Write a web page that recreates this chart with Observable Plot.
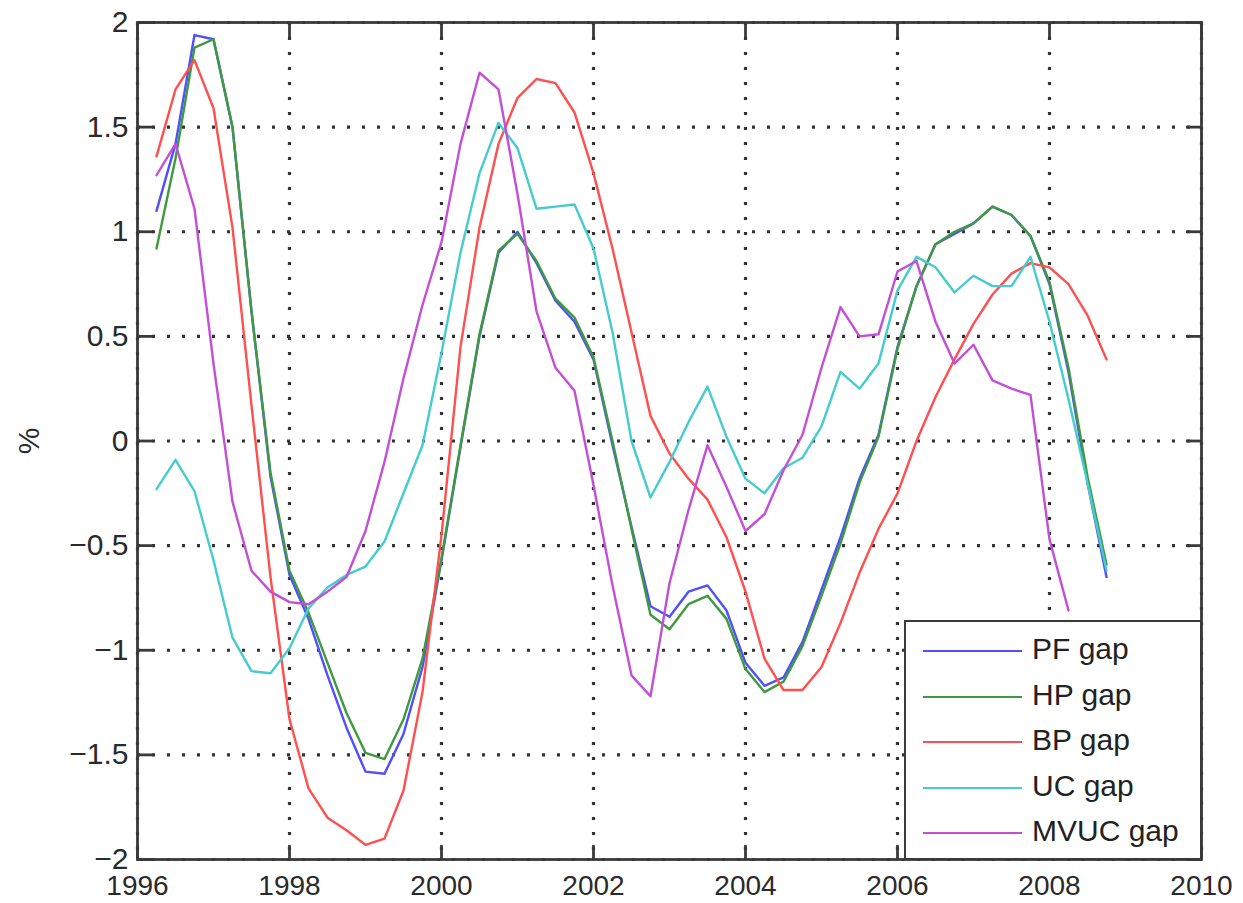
<!DOCTYPE html>
<html>
<head>
<meta charset="utf-8">
<script src="https://cdn.jsdelivr.net/npm/d3@7"></script>
<script src="https://cdn.jsdelivr.net/npm/@observablehq/plot@0.6"></script>
<style>
  html, body { margin: 0; padding: 0; background: #fff; }
  #wrap { position: relative; width: 1243px; height: 903px; overflow: hidden; font-family: "Liberation Sans", Arial, sans-serif; }
  #legend { position: absolute; background: #fff; border: 2.6px solid #3a3a3a; box-sizing: border-box; }
  .entry { position: absolute; left: 0; width: 100%; }
  .entry .sw { position: absolute; left: 17px; width: 99px; height: 0; border-top: 2.8px solid; }
  .entry .lb { position: absolute; left: 126px; font-size: 30px; color: #222; line-height: 30px; white-space: nowrap; }
</style>
</head>
<body>
<div id="wrap"></div>
<script>
// Quarterly observation dates (decimal years)
const quarters = [
  1996.25, 1996.5, 1996.75, 1997, 1997.25, 1997.5, 1997.75, 1998, 1998.25, 1998.5, 1998.75,
  1999, 1999.25, 1999.5, 1999.75, 2000, 2000.25, 2000.5, 2000.75, 2001, 2001.25, 2001.5, 2001.75,
  2002, 2002.25, 2002.5, 2002.75, 2003, 2003.25, 2003.5, 2003.75, 2004, 2004.25, 2004.5, 2004.75,
  2005, 2005.25, 2005.5, 2005.75, 2006, 2006.25, 2006.5, 2006.75, 2007, 2007.25, 2007.5, 2007.75,
  2008, 2008.25, 2008.5, 2008.75
];

const pfGap = [1.1, 1.42, 1.94, 1.92, 1.5, 0.62, -0.17, -0.64, -0.85, -1.12, -1.37, -1.58, -1.59, -1.4, -1.08, -0.57, -0.03, 0.5, 0.9, 1.0, 0.85, 0.67, 0.57, 0.39, -0.02, -0.41, -0.79, -0.84, -0.72, -0.69, -0.81, -1.06, -1.17, -1.13, -0.96, -0.71, -0.46, -0.18, 0.03, 0.45, 0.74, 0.94, 0.99, 1.04, 1.12, 1.08, 0.98, 0.75, 0.33, -0.2, -0.65];
const hpGap = [0.92, 1.35, 1.88, 1.92, 1.5, 0.62, -0.15, -0.62, -0.82, -1.06, -1.3, -1.49, -1.52, -1.33, -1.04, -0.56, -0.02, 0.51, 0.91, 0.99, 0.86, 0.68, 0.59, 0.4, 0.0, -0.42, -0.83, -0.9, -0.78, -0.74, -0.85, -1.09, -1.2, -1.15, -0.98, -0.74, -0.49, -0.2, 0.02, 0.44, 0.74, 0.94, 1.0, 1.04, 1.12, 1.08, 0.98, 0.76, 0.35, -0.17, -0.59];
const bpGap = [1.36, 1.68, 1.82, 1.59, 1.02, 0.17, -0.65, -1.33, -1.66, -1.8, -1.86, -1.93, -1.9, -1.67, -1.2, -0.45, 0.45, 1.02, 1.42, 1.64, 1.73, 1.71, 1.57, 1.28, 0.92, 0.52, 0.12, -0.06, -0.18, -0.28, -0.46, -0.72, -1.04, -1.19, -1.19, -1.08, -0.87, -0.63, -0.42, -0.25, 0.0, 0.21, 0.39, 0.56, 0.7, 0.8, 0.85, 0.83, 0.75, 0.6, 0.39];
const ucGap = [-0.23, -0.09, -0.24, -0.57, -0.94, -1.1, -1.11, -0.99, -0.8, -0.7, -0.64, -0.6, -0.48, -0.25, -0.02, 0.42, 0.9, 1.28, 1.52, 1.4, 1.11, 1.12, 1.13, 0.92, 0.52, 0.0, -0.27, -0.1, 0.09, 0.26, 0.02, -0.18, -0.25, -0.13, -0.08, 0.07, 0.33, 0.25, 0.37, 0.72, 0.88, 0.83, 0.71, 0.79, 0.74, 0.74, 0.88, 0.57, 0.2, -0.2, -0.62];
const mvucGap = [1.27, 1.42, 1.11, 0.37, -0.29, -0.62, -0.72, -0.77, -0.78, -0.72, -0.65, -0.43, -0.1, 0.3, 0.65, 0.95, 1.42, 1.76, 1.68, 1.18, 0.62, 0.35, 0.24, -0.21, -0.69, -1.12, -1.22, -0.68, -0.33, -0.02, -0.22, -0.43, -0.35, -0.14, 0.03, 0.35, 0.64, 0.5, 0.51, 0.81, 0.86, 0.57, 0.37, 0.46, 0.29, 0.25, 0.22, -0.47, -0.81];

const seriesNames = ["PF gap", "HP gap", "BP gap", "UC gap", "MVUC gap"];
const seriesValues = [pfGap, hpGap, bpGap, ucGap, mvucGap];
const seriesColors = ["#4f4fff", "#3f9a3f", "#ff4f4f", "#46cccc", "#c24fd6"];

const xTicks = [1996, 1998, 2000, 2002, 2004, 2006, 2008, 2010];
const yTicks = [-2, -1.5, -1, -0.5, 0, 0.5, 1, 1.5, 2];
const yLabel = "%";

// long-format table for the line mark
const rows = [];
seriesNames.forEach((name, i) => {
  seriesValues[i].forEach((v, j) => rows.push({series: name, t: quarters[j], v}));
});

const fmtY = d => (d < 0 ? "\u2212" : "") + Math.abs(d);
const gridStyle = {stroke: "#333", strokeOpacity: 1, strokeWidth: 3.2, strokeDasharray: "3,12"};
const tickCol = "#3a3a3a";

const chart = Plot.plot({
  width: 1243,
  height: 903,
  marginLeft: 137,
  marginRight: 42,
  marginTop: 22,
  marginBottom: 44,
  style: {fontFamily: "Liberation Sans, Arial, sans-serif", fontSize: "30px", color: "#2a2a2a", background: "#fff", overflow: "visible"},
  x: {domain: [1996, 2010]},
  y: {domain: [-2, 2]},
  color: {domain: seriesNames, range: seriesColors},
  marks: [
    Plot.gridX(xTicks, gridStyle),
    Plot.gridY(yTicks, gridStyle),
    Plot.line(rows, {x: "t", y: "v", z: "series", stroke: "series", strokeWidth: 2.4}),
    Plot.frame({stroke: "#3a3a3a", strokeWidth: 2.8}),
    Plot.axisX({anchor: "bottom", ticks: xTicks, tickFormat: d => String(d), tickSize: -14, tickPadding: 30, fontSize: 28, stroke: tickCol, strokeWidth: 2.8, label: null}),
    Plot.axisX({anchor: "top", ticks: xTicks, tickFormat: () => "", tickSize: -14, stroke: tickCol, strokeWidth: 2.8, label: null}),
    Plot.axisY({anchor: "left", ticks: yTicks, tickFormat: fmtY, tickSize: -16, tickPadding: 25, stroke: tickCol, strokeWidth: 2.8,
      label: yLabel, labelAnchor: "center", labelOffset: 120, labelArrow: "none"}),
    Plot.axisY({anchor: "right", ticks: yTicks, tickFormat: () => "", tickSize: -16, stroke: tickCol, strokeWidth: 2.8, label: null})
  ]
});

const wrap = document.getElementById("wrap");
wrap.appendChild(chart);

// Legend (box in the lower right corner of the axes)
const legend = document.createElement("div");
legend.id = "legend";
legend.style.left = "904px";
legend.style.top = "620px";
legend.style.width = "298px";
legend.style.height = "240px";
seriesNames.forEach((name, i) => {
  const e = document.createElement("div");
  e.className = "entry";
  e.style.top = (28 + i * 45.5) + "px";
  const sw = document.createElement("div");
  sw.className = "sw";
  sw.style.borderTopColor = seriesColors[i];
  const lb = document.createElement("div");
  lb.className = "lb";
  lb.style.top = "-16px";
  lb.textContent = name;
  e.appendChild(sw);
  e.appendChild(lb);
  legend.appendChild(e);
});
wrap.appendChild(legend);
</script>
</body>
</html>
